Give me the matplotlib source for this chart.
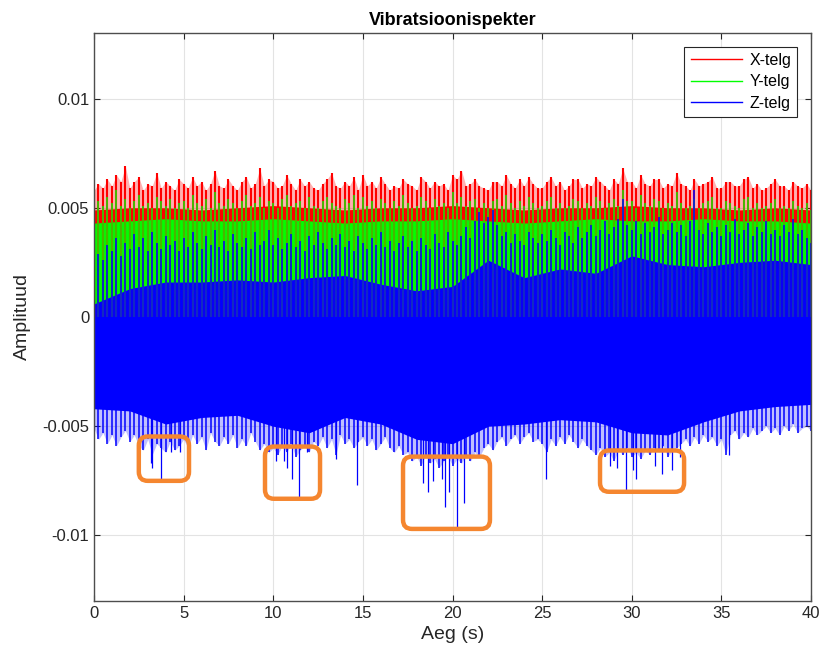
import numpy as np
import matplotlib
matplotlib.use('Agg')
import matplotlib.pyplot as plt
from matplotlib.lines import Line2D
from matplotlib.patches import FancyBboxPatch

plt.rcParams['font.family'] = ['Liberation Sans', 'DejaVu Sans']

# peak envelope of each axis signal, read every 0.25 s (values in 1e-3)
t_peak = np.linspace(0, 40, 161)
x_peak = np.array([5.8, 6.1, 5.9, 6.3, 6.0, 6.5, 6.2, 6.9, 5.9, 6.2,
                   6.4, 5.8, 6.1, 6.0, 6.6, 5.9, 6.2, 6.0, 5.8, 6.3,
                   6.1, 5.9, 6.4, 6.0, 6.2, 5.8, 6.1, 6.7, 6.0, 5.9,
                   6.3, 6.0, 5.8, 6.2, 6.4, 5.9, 6.1, 6.8, 6.0, 6.3,
                   6.2, 5.9, 6.0, 6.5, 6.1, 5.8, 6.3, 6.0, 6.2, 5.9,
                   5.8, 6.1, 6.3, 6.6, 6.0, 5.9, 6.2, 6.0, 6.4, 5.8,
                   6.5, 6.0, 6.2, 5.9, 6.4, 6.1, 5.8, 6.0, 5.9, 6.3,
                   6.1, 6.0, 5.8, 6.4, 6.2, 5.9, 6.2, 6.0, 6.1, 5.8,
                   6.5, 6.3, 6.7, 6.0, 6.1, 6.3, 6.0, 5.9, 5.8, 6.2,
                   6.2, 6.0, 6.5, 6.1, 5.9, 6.3, 6.0, 6.4, 6.1, 5.9,
                   5.9, 6.2, 6.4, 6.0, 6.2, 5.8, 6.0, 6.3, 6.3, 5.9,
                   6.1, 6.0, 6.4, 6.2, 6.0, 5.8, 6.3, 6.1, 6.8, 6.2,
                   6.2, 5.9, 6.5, 6.1, 6.0, 6.3, 6.3, 5.9, 6.1, 6.0,
                   6.6, 6.1, 6.0, 5.8, 6.3, 6.0, 6.1, 6.2, 6.4, 5.9,
                   5.9, 6.2, 6.2, 6.0, 6.0, 6.3, 6.4, 5.9, 6.1, 5.8,
                   5.9, 6.1, 6.3, 6.0, 6.0, 5.8, 6.2, 6.0, 5.9, 6.1,
                   5.8]) * 1e-3
y_peak = np.array([5.0, 5.3, 5.1, 5.5, 5.2, 5.8, 5.1, 5.4, 5.0, 5.3,
                   5.6, 5.1, 5.2, 5.0, 5.5, 5.3, 5.1, 5.4, 5.0, 5.2,
                   5.3, 5.0, 5.6, 5.2, 5.1, 5.4, 5.0, 5.7, 5.2, 5.1,
                   5.4, 5.2, 5.0, 5.3, 5.6, 5.1, 5.2, 5.5, 5.0, 5.3,
                   5.2, 5.0, 5.4, 5.6, 5.1, 5.2, 5.3, 5.0, 5.5, 5.1,
                   5.0, 5.3, 5.5, 5.2, 5.1, 5.0, 5.4, 5.2, 5.6, 5.0,
                   5.5, 5.1, 5.3, 5.0, 5.4, 5.2, 5.0, 5.3, 5.1, 5.6,
                   5.2, 5.0, 5.1, 5.5, 5.3, 5.0, 5.4, 5.1, 5.2, 5.0,
                   5.7, 5.2, 5.5, 5.1, 5.3, 5.4, 5.0, 5.2, 5.0, 5.3,
                   5.4, 5.1, 5.6, 5.2, 5.0, 5.3, 5.1, 5.5, 5.2, 5.0,
                   5.1, 5.3, 5.5, 5.0, 5.2, 5.0, 5.1, 5.4, 5.3, 5.0,
                   5.2, 5.1, 5.5, 5.3, 5.0, 5.2, 5.4, 5.1, 5.8, 5.3,
                   5.3, 5.0, 5.6, 5.2, 5.1, 5.4, 5.3, 5.0, 5.2, 5.1,
                   5.7, 5.2, 5.0, 5.1, 5.4, 5.0, 5.2, 5.3, 5.5, 5.0,
                   5.0, 5.3, 5.2, 5.1, 5.0, 5.4, 5.5, 5.0, 5.2, 5.0,
                   5.1, 5.2, 5.4, 5.0, 5.1, 5.0, 5.3, 5.1, 5.0, 5.2,
                   4.9]) * 1e-3
z_peak = np.array([2.4, 2.9, 2.6, 3.3, 3.0, 3.6, 2.8, 3.4, 3.1, 3.8,
                   3.2, 3.6, 3.0, 3.9, 3.4, 3.1, 3.7, 3.3, 3.5, 3.0,
                   3.6, 3.2, 3.9, 3.4, 3.1, 3.7, 3.3, 4.0, 3.2, 3.5,
                   3.0, 3.8, 3.4, 3.2, 3.6, 3.1, 3.9, 3.3, 3.5, 4.0,
                   3.3, 3.6, 3.1, 3.4, 3.8, 3.2, 3.5, 3.0, 3.7, 3.3,
                   3.9, 3.4, 3.1, 3.6, 3.3, 3.8, 3.2, 3.5, 3.0, 3.7,
                   3.4, 3.1, 3.6, 3.3, 3.9, 3.2, 3.5, 3.0, 3.4, 3.7,
                   3.2, 3.5, 3.0, 3.6, 3.3, 3.1, 3.8, 3.4, 3.2, 3.9,
                   3.5, 3.3, 3.7, 4.1, 3.6, 4.4, 4.8, 4.3, 4.6, 4.9,
                   4.2, 3.7, 3.9, 3.4, 3.8, 3.5, 3.3, 3.9, 3.6, 3.4,
                   3.8, 3.5, 4.0, 3.6, 3.3, 3.9, 3.7, 3.4, 4.1, 3.6,
                   3.9, 4.2, 3.7, 4.0, 4.4, 3.8, 4.1, 4.5, 5.4, 4.2,
                   4.0, 4.4, 3.8, 4.3, 3.9, 4.1, 4.6, 3.8, 4.0, 4.3,
                   3.9, 4.2, 3.7, 4.4, 5.8, 4.0, 3.8, 4.3, 3.9, 4.1,
                   3.7, 4.2, 3.9, 4.5, 3.8, 4.0, 4.3, 3.7, 4.1, 3.9,
                   4.4, 3.8, 4.0, 3.7, 4.2, 3.9, 4.5, 3.8, 4.0, 3.6,
                   3.4]) * 1e-3
z_trough = np.array([-5.1, -5.6, -5.3, -5.8, -5.4, -5.9, -5.5, -5.2, -5.7, -5.4,
                     -5.9, -6.1, -5.6, -6.3, -5.8, -6.0, -6.2, -5.7, -6.1, -5.9,
                     -5.6, -6.0, -5.4, -5.8, -5.5, -6.1, -5.3, -5.7, -5.9, -5.5,
                     -5.8, -5.4, -6.0, -5.6, -5.9, -5.3, -5.7, -6.1, -5.8, -6.2,
                     -6.0, -6.3, -5.9, -6.2, -5.8, -6.4, -6.1, -5.9, -6.2, -5.7,
                     -5.9, -5.5, -6.0, -5.6, -6.3, -5.4, -5.8, -5.6, -6.0, -5.7,
                     -5.5, -5.9, -5.6, -6.1, -5.8, -5.5, -6.0, -6.2, -5.9, -6.3,
                     -6.2, -6.6, -6.4, -6.8, -6.3, -6.7, -6.5, -6.9, -6.6, -6.4,
                     -6.8, -6.5, -6.7, -6.3, -6.6, -6.2, -6.4, -6.0, -5.8, -6.1,
                     -5.7, -5.5, -5.9, -5.6, -5.4, -5.8, -5.5, -5.3, -5.7, -5.6,
                     -5.8, -6.2, -5.6, -5.9, -5.5, -5.8, -5.4, -5.7, -6.0, -5.6,
                     -5.9, -6.1, -6.3, -6.0, -6.4, -6.2, -6.6, -6.1, -6.3, -6.0,
                     -6.4, -6.2, -6.5, -6.1, -6.3, -6.0, -6.2, -5.9, -6.4, -6.1,
                     -6.0, -5.8, -5.6, -5.9, -5.5, -5.8, -5.4, -5.7, -5.5, -5.9,
                     -5.6, -6.3, -5.4, -5.2, -5.6, -5.3, -5.5, -5.1, -5.4, -5.2,
                     -5.0, -5.3, -5.1, -5.4, -5.0, -5.2, -4.9, -5.3, -5.1, -5.0,
                     -5.2]) * 1e-3

# dense core of each signal, read every 2 s (values in 1e-3)
t_core = np.linspace(0, 40, 21)
x_top = np.array([4.9, 5.0, 5.0, 4.9, 5.0, 5.1, 5.0, 4.9, 5.0, 5.0, 5.1,
                  5.0, 4.9, 5.0, 5.0, 5.1, 5.0, 5.0, 4.9, 5.0, 4.9]) * 1e-3
y_top = np.array([4.3, 4.4, 4.5, 4.4, 4.4, 4.5, 4.4, 4.3, 4.4, 4.4, 4.5,
                  4.4, 4.3, 4.4, 4.5, 4.4, 4.4, 4.5, 4.4, 4.4, 4.3]) * 1e-3
z_top = np.array([0.6, 1.3, 1.6, 1.6, 1.7, 1.6, 1.8, 1.9, 1.5, 1.2, 1.4,
                  2.6, 1.8, 2.2, 2.0, 2.8, 2.4, 2.3, 2.5, 2.6, 2.4]) * 1e-3
z_bot = np.array([-4.2, -4.3, -4.9, -4.6, -4.5, -5.0, -5.3, -4.6, -4.9, -5.6, -5.8,
                  -5.0, -4.9, -4.7, -4.8, -5.3, -5.4, -4.8, -4.3, -4.1, -4.0]) * 1e-3

# deepest Z-axis spikes
spike_t = [3.18, 3.24, 3.74, 4.3, 4.8, 10.15, 10.6, 10.77, 11.05, 11.44, 11.9,
           13.5, 14.67, 18.35, 18.63, 18.9, 19.4, 19.58, 19.8, 20.25, 20.64,
           25.2, 28.8, 29.2, 29.68, 30.07, 30.24, 31.3, 31.69, 32.25, 32.7, 35.4]
spike_v = np.array([-6.7, -6.9, -7.4, -6.2, -6.2, -6.6, -6.6, -6.9, -7.4, -8.3, -6.2,
                    -6.5, -7.7, -7.6, -8.0, -7.5, -7.4, -8.7, -8.0, -9.7, -8.5,
                    -7.4, -6.8, -6.9, -7.9, -7.0, -7.4, -6.8, -7.2, -7.0, -6.4, -6.3]) * 1e-3

# highlighted regions: (t_start, t_end, low, high)
boxes = [(2.5, 5.3, -7.5e-3, -5.47e-3),
         (9.54, 12.61, -8.32e-3, -5.93e-3),
         (17.24, 22.09, -9.7e-3, -6.39e-3),
         (28.23, 32.92, -8.0e-3, -6.11e-3)]

labels = ['X-telg', 'Y-telg', 'Z-telg']
colors = ['#FF0000', '#00FF00', '#0000FF']
yticks = [-0.01, -0.005, 0, 0.005, 0.01]
ytick_labels = ['-0.01', '-0.005', '0', '0.005', '0.01']
xticks = [0, 5, 10, 15, 20, 25, 30, 35, 40]

fig = plt.figure(figsize=(8.24, 6.55), dpi=100)
ax = fig.add_axes([94 / 824, 1 - 601 / 655, 717 / 824, 568 / 655])

# X axis
ax.fill_between(t_peak, 0, x_peak, color=colors[0], alpha=0.3, lw=0)
ax.vlines(t_peak, 0, x_peak, color=colors[0], lw=1.5)
ax.fill_between(t_core, 0, x_top, color=colors[0], lw=0)
# Y axis
ax.vlines(t_peak, 0, y_peak, color=colors[1], lw=1.2, alpha=0.85)
ax.fill_between(t_core, 0, y_top, color=colors[1], lw=0)
# Z axis
ax.fill_between(t_peak, z_trough, 0, color=colors[2], alpha=0.25, lw=0)
ax.vlines(t_peak, z_trough, z_peak, color=colors[2], lw=1.1)
ax.fill_between(t_core, z_bot, z_top, color=colors[2], lw=0)
ax.vlines(spike_t, 0, spike_v, color=colors[2], lw=0.9)

# orange highlight boxes, corners kept round in pixels
aspect = (0.001 / 21.75) / (1 / 17.925)
for x0, x1, y0, y1 in boxes:
    box = FancyBboxPatch((x0, y0), x1 - x0, y1 - y0,
                         boxstyle='round,pad=0,rounding_size=0.5',
                         mutation_aspect=aspect, fill=False,
                         edgecolor='#F5862F', lw=3.2, zorder=5)
    ax.add_patch(box)

ax.set_xlim(0, 40)
ax.set_ylim(-0.013, 0.013)
ax.set_xticks(xticks)
ax.set_yticks(yticks)
ax.set_yticklabels(ytick_labels)
ax.tick_params(direction='in', top=True, right=True, length=4.5, width=0.8,
               labelsize=12, colors='#262626', labelcolor='#262626')
ax.grid(True, color='#e3e3e3', lw=0.8)
ax.set_axisbelow(True)
for s in ax.spines.values():
    s.set_color('#4d4d4d')
    s.set_linewidth(1.0)

ax.set_title('Vibratsioonispekter', fontsize=13, fontweight='bold', pad=6)
ax.set_xlabel('Aeg (s)', fontsize=14, color='#262626', labelpad=4)
ax.set_ylabel('Amplituud', fontsize=14, color='#262626', labelpad=8)

custom_legend = [Line2D([0], [0], color=c, lw=1.0, label=l) for c, l in zip(colors, labels)]
leg = ax.legend(handles=custom_legend, loc='upper right', fontsize=11.5, fancybox=False,
                framealpha=1, edgecolor='#262626', handlelength=3.2, handletextpad=0.45,
                labelspacing=0.4, borderpad=0.4, borderaxespad=0.85)
leg.get_frame().set_linewidth(0.8)

fig.savefig('out.png', dpi=100)
